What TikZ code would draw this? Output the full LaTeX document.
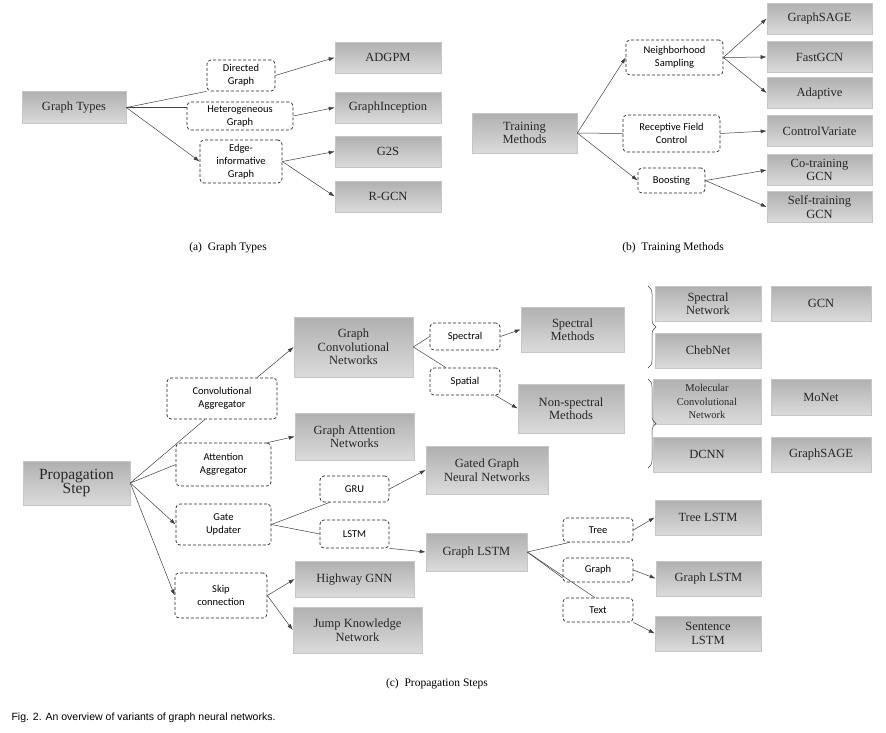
\documentclass[tikz,border=0pt]{standalone}
\usepackage{fontspec}
\setmainfont{Liberation Serif}
\newfontfamily\dsf{Carlito}
\newfontfamily\lsf{Liberation Sans}
\usetikzlibrary{arrows.meta,decorations.pathreplacing}
\begin{document}
\begin{tikzpicture}[x=1pt,y=-1pt,
  g/.style={draw=gray!45,line width=0.6pt,top color=gray!62,bottom color=gray!28,align=center,inner sep=0pt,font=\fontsize{12.5}{13.5}\selectfont,text=black!85},
  d/.style={draw=black!85,dashed,dash pattern=on 3pt off 2pt,rounded corners=4pt,line width=0.7pt,align=center,inner sep=0pt,font=\dsf\fontsize{10.5}{13}\selectfont},
  ln/.style={draw=black!75,line width=0.5pt},
  ar/.style={ln,-{Latex[length=6pt,width=4pt]}},
  capt/.style={font=\fontsize{11.5}{13}\selectfont}]
\useasboundingbox (0,0) rectangle (886,732);
\fill[white] (0,0) rectangle (886,732);
\def\B#1#2#3#4#5#6{\node[#1,minimum width=#4pt,minimum height=#5pt] (#2) at #3 {#6};}
% (a)
\B{g}{gt}{(74,107.5)}{104}{32}{Graph Types}
\B{d}{dg}{(241,75.5)}{68}{31}{Directed\\Graph}
\B{d}{hg}{(240,116)}{106}{28}{Heterogeneous\\Graph}
\B{d}{eg}{(241,161.5)}{82}{43}{Edge-\\informative\\Graph}
\B{g}{adg}{(388,57.5)}{106}{31}{ADGPM}
\B{g}{gin}{(388,107.5)}{106}{31}{GraphInception}
\B{g}{g2s}{(388,151.5)}{106}{31}{G2S}
\B{g}{rgcn}{(388,196.5)}{106}{31}{R-GCN}
\draw[ln] (gt.east) -- (dg.south west);
\draw[ln] (gt.east) -- (hg.west |- gt.east);
\draw[ar] (gt.east) -- (eg.west);
\draw[ar] (dg.east) -- (adg.west);
\draw[ar] (hg.east) -- (gin.west);
\draw[ar] (eg.east) -- (g2s.west);
\draw[ar] (eg.east) -- (rgcn.west);
\node[capt] (ca) at (228,248) {(a)\ \ Graph Types};
% (b)
\B{g}{tm}{(524.5,133)}{105}{40}{Training\\Methods}
\B{d}{ns}{(674.5,57.5)}{97}{35}{Neighborhood\\Sampling}
\B{d}{rf}{(671.5,133.5)}{97}{37}{Receptive Field\\Control}
\B{d}{bo}{(671.5,180.5)}{67}{25}{Boosting}
\B{g}{gs}{(819.5,18.5)}{105}{31}{GraphSAGE}
\B{g}{fg}{(819.5,57)}{105}{31}{FastGCN}
\B{g}{ad}{(819.5,93)}{105}{31}{Adaptive}
\B{g}{cv}{(819.5,131)}{105}{31}{ControlVariate}
\B{g}{co}{(819.5,170)}{105}{31}{Co-training\\GCN}
\B{g}{st}{(819.5,207)}{105}{31}{Self-training\\GCN}
\draw[ar] (tm.east) -- (ns.west);
\draw[ln] (tm.east) -- (rf.west);
\draw[ar] (tm.east) -- (bo.west);
\draw[ar] (ns.east) -- (gs.west);
\draw[ar] (ns.east) -- (fg.west);
\draw[ar] (ns.east) -- (ad.west);
\draw[ar] (rf.east) -- (cv.west);
\draw[ar] (bo.east) -- (co.west);
\draw[ar] (bo.east) -- (st.west);
\node[capt] (cb) at (673,248) {(b)\ \ Training Methods};
% (c)
\B{g}{ps}{(76.5,483)}{107}{44}{\fontsize{15.5}{17.5}\selectfont Propagation\\\fontsize{15.5}{17.5}\selectfont Step}
\B{d}{ca1}{(222,398.5)}{110}{41}{Convolutional\\Aggregator}
\B{d}{aa}{(223.5,464.5)}{95}{43}{Attention\\Aggregator}
\B{d}{gu}{(223.5,524.5)}{95}{41}{Gate\\Updater}
\B{d}{sc}{(221,595.5)}{92}{45}{Skip\\connection}
\B{g}{gcn}{(353.5,347)}{119}{60}{Graph\\Convolutional\\Networks}
\B{g}{gat}{(354.5,436.5)}{119}{47}{Graph Attention\\Networks}
\B{d}{gru}{(354.5,489)}{69}{26}{GRU}
\B{d}{lstm}{(354.5,534)}{69}{28}{LSTM}
\B{g}{hw}{(354.5,579)}{119}{36}{Highway GNN}
\B{g}{jk}{(357.5,630)}{129}{46}{Jump Knowledge\\Network}
\B{g}{ggnn}{(487,470)}{122}{48}{Gated Graph\\Neural Networks}
\B{g}{gl}{(476.5,552)}{101}{38}{Graph LSTM}
\B{d}{sp}{(465,336.5)}{70}{27}{Spectral}
\B{d}{sa}{(465,381.5)}{70}{27}{Spatial}
\B{g}{sm}{(572.5,329.5)}{103}{45}{Spectral\\Methods}
\B{g}{nsm}{(571,408.5)}{106}{49}{Non-spectral\\Methods}
\B{g}{sn}{(708,303.5)}{106}{35}{Spectral\\Network}
\B{g}{cn}{(708,350.5)}{106}{35}{ChebNet}
\B{g}{gc}{(821,303.5)}{100}{35}{GCN}
\B{g}{mc}{(707,401.5)}{108}{45}{\fontsize{10.5}{11.5}\selectfont Molecular\\\fontsize{10.5}{11.5}\selectfont Convolutional\\\fontsize{10.5}{11.5}\selectfont Network}
\B{g}{mo}{(821,397)}{100}{36}{MoNet}
\B{g}{dc}{(707,454.5)}{108}{35}{DCNN}
\B{g}{gsg}{(821,454.5)}{100}{35}{GraphSAGE}
\B{d}{tr}{(598,530)}{70}{24}{Tree}
\B{d}{gr}{(598,570)}{70}{24}{Graph}
\B{d}{tx}{(598,610)}{70}{24}{Text}
\B{g}{tl}{(708,517.5)}{106}{35}{Tree LSTM}
\B{g}{gl2}{(708.5,578.5)}{105}{35}{Graph LSTM}
\B{g}{sl}{(708,633.5)}{106}{35}{Sentence\\LSTM}
\coordinate (b1t) at (648,286); \coordinate (b1b) at (648,368);
\coordinate (b2t) at (648,379); \coordinate (b2b) at (648,468);
\draw[ln,decorate,decoration={brace,amplitude=8pt}] (b1t) -- (b1b);
\draw[ln,decorate,decoration={brace,amplitude=8pt}] (b2t) -- (b2b);
\draw[ln] (ps.east) -- ([xshift=-17pt]ca1.south);
\draw[ln] (ps.east) -- (aa.west);
\draw[ar] (ps.east) -- (gu.west);
\draw[ar] (ps.east) -- (sc.west);
\draw[ar] ([xshift=35pt]ca1.north) -- (gcn.west);
\draw[ar] ([xshift=-4pt]aa.north east) -- (gat.west);
\draw[ln] (gu.east) -- ([xshift=10pt]gru.south west);
\draw[ln] (gu.east) -- (lstm.west);
\draw[ar] (gru.east) -- (ggnn.west);
\draw[ar] (lstm.south east) -- (gl.west);
\draw[ar] (sc.east) -- (hw.west);
\draw[ar] (sc.east) -- (jk.west);
\draw[ln] (gcn.east) -- (sp.west);
\draw[ln] (gcn.east) -- ([xshift=-19pt]sa.north);
\draw[ar] (sp.east) -- (sm.west);
\draw[ar] ([xshift=-5pt]sa.south east) -- (nsm.west);
\draw[ln] (gl.east) -- ([xshift=7pt]tr.south west);
\draw[ln] (gl.east) -- ([yshift=-8pt]gr.west);
\draw[ln] (gl.east) -- ([xshift=-3pt]tx.north);
\draw[ar] (tr.east) -- (tl.west);
\draw[ar] (gr.east) -- (gl2.west);
\draw[ar] (tx.south east) -- (sl.west);
\node[capt] (cc) at (437,684) {(c)\ \ Propagation Steps};
\node[anchor=west,font=\lsf\fontsize{10.5}{12}\selectfont] (fig) at (8,718) {Fig. 2. An overview of variants of graph neural networks.};
\end{tikzpicture}
\end{document}
